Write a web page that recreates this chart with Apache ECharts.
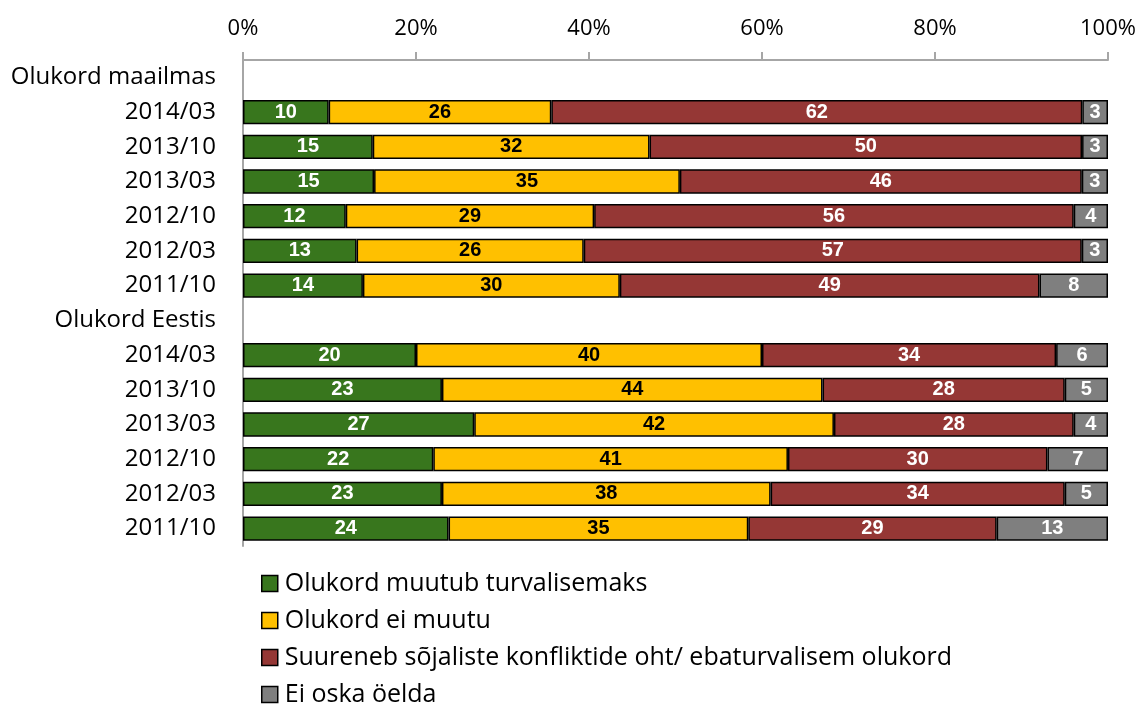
<!DOCTYPE html>
<html>
<head>
<meta charset="utf-8">
<script src="https://cdn.jsdelivr.net/npm/echarts@6/dist/echarts.min.js"></script>
<style>
  html, body { margin: 0; padding: 0; background: #fff; }
  #chart { width: 1146px; height: 708px; }
</style>
</head>
<body>
<div id="chart"></div>
<script>
// rows top to bottom; header rows have no bar
const categories = ['Olukord maailmas', '2014/03', '2013/10', '2013/03', '2012/10', '2012/03', '2011/10',
  'Olukord Eestis', '2014/03', '2013/10', '2013/03', '2012/10', '2012/03', '2011/10'];
const seriesNames = ['Olukord muutub turvalisemaks', 'Olukord ei muutu',
  'Suureneb sõjaliste konfliktide oht/ ebaturvalisem olukord', 'Ei oska öelda'];
const saferVals   = [null, 10, 15, 15, 12, 13, 14, null, 20, 23, 27, 22, 23, 24];
const sameVals    = [null, 26, 32, 35, 29, 26, 30, null, 40, 44, 42, 41, 38, 35];
const riskVals    = [null, 62, 50, 46, 56, 57, 49, null, 34, 28, 28, 30, 34, 29];
const dontKnow    = [null, 3, 3, 3, 4, 3, 8, null, 6, 5, 4, 7, 5, 13];

const colors = ['#38761d', '#ffc000', '#953735', '#7f7f7f'];
const labelColors = ['#fff', '#000', '#fff', '#fff'];
const raw = [saferVals, sameVals, riskVals, dontKnow];

// 100% stacked: each row is scaled to its own total
const totals = categories.map((c, i) => raw.reduce((s, arr) => s + (arr[i] || 0), 0));

let chart = echarts.init(document.getElementById('chart'));

const series = raw.map((arr, k) => ({
  name: seriesNames[k],
  type: 'bar',
  stack: 'all',
  barCategoryGap: '30%',
  itemStyle: { color: colors[k], borderColor: '#000', borderWidth: 1.5 },
  label: {
    show: true,
    position: 'inside',
    color: labelColors[k],
    fontFamily: 'Liberation Sans',
    fontWeight: 'bold',
    fontSize: 20,
    formatter: p => raw[k][p.dataIndex] == null ? '' : raw[k][p.dataIndex]
  },
  data: arr.map((v, i) => v == null ? null : v / totals[i] * 100)
}));

const option = {
  animation: false,
  grid: { left: 243, right: 38, top: 60, height: 486, containLabel: false },
  legend: {
    orient: 'vertical',
    left: 261,
    top: 571,
    height: 150,
    padding: 0,
    itemWidth: 16,
    itemHeight: 16,
    itemGap: 12,
    icon: 'rect',
    itemStyle: { borderColor: '#000', borderWidth: 1.5 },
    textStyle: { fontFamily: 'Open Sans', fontSize: 25, lineHeight: 22, color: '#000', padding: [0, 0, 0, 2] },
    data: seriesNames
  },
  xAxis: {
    type: 'value',
    position: 'top',
    min: 0,
    max: 100,
    interval: 20,
    axisLine: { show: true, lineStyle: { color: '#a6a6a6', width: 2 } },
    axisTick: { show: true, length: 8, lineStyle: { color: '#a6a6a6', width: 2 } },
    splitLine: { show: false },
    axisLabel: {
      formatter: '{value}%',
      fontFamily: 'Open Sans',
      fontSize: 22,
      color: '#000',
      margin: 20
    }
  },
  yAxis: {
    type: 'category',
    inverse: true,
    data: categories,
    axisLine: { show: true, lineStyle: { color: '#a6a6a6', width: 2 } },
    axisTick: { show: false },
    axisLabel: {
      fontFamily: 'Open Sans',
      fontSize: 24,
      color: '#000',
      margin: 27
    }
  },
  series: series
};

chart.setOption(option);
</script>
</body>
</html>
